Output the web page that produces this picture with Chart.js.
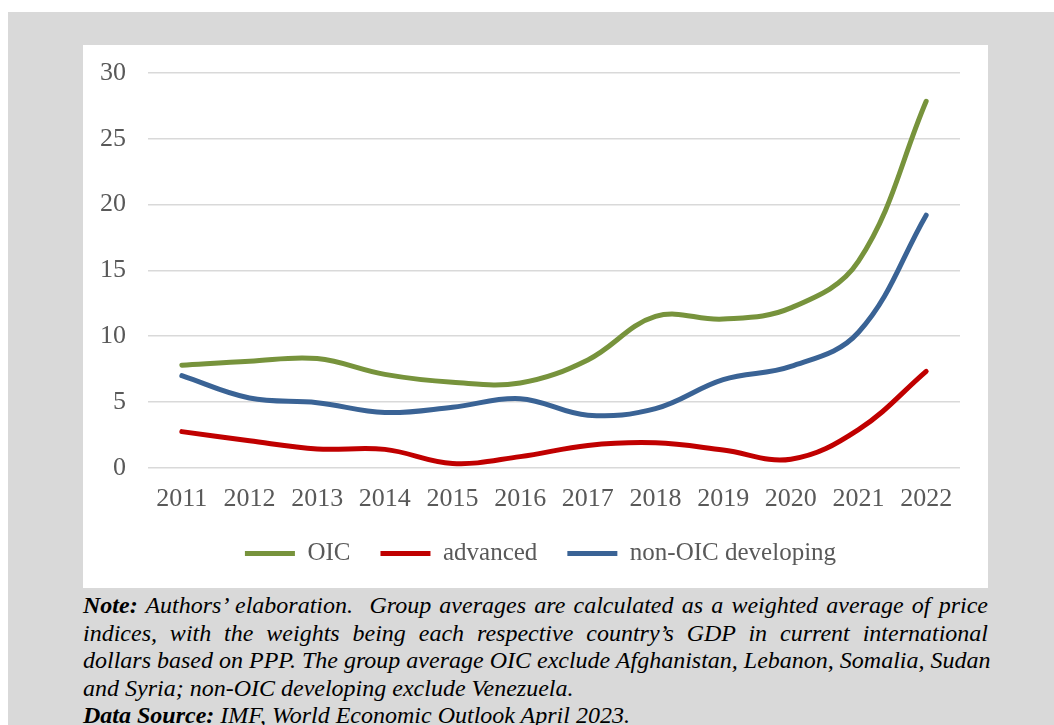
<!DOCTYPE html>
<html>
<head>
<meta charset="utf-8">
<script src="https://cdn.jsdelivr.net/npm/chart.js@4"></script>
<style>
  html, body { margin: 0; padding: 0; background: #ffffff; }
  body { width: 1054px; height: 725px; position: relative; overflow: hidden; }
  .panel { position: absolute; left: 8px; top: 12px; width: 1046px; height: 713px; background: #d9d9d9; }
  .box { position: absolute; left: 83px; top: 45px; width: 905px; height: 543px; background: #ffffff; }
  .note {
    position: absolute; left: 83px; top: 592px; width: 905px;
    font-family: "Liberation Serif", serif; font-style: italic; font-size: 24px;
    line-height: 27.5px; color: #000000;
  }
  .note div { text-align: justify; text-align-last: justify; white-space: nowrap; }
  .note div.last { text-align-last: left; }
</style>
</head>
<body>
<div class="panel"></div>
<div class="box"><canvas id="chart" width="905" height="543"></canvas></div>
<div class="note">
  <div><b>Note:</b> Authors’ elaboration.&nbsp; Group averages are calculated as a weighted average of price</div>
  <div>indices, with the weights being each respective country’s GDP in current international</div>
  <div>dollars based on PPP. The group average OIC exclude Afghanistan, Lebanon, Somalia, Sudan</div>
  <div class="last">and Syria; non-OIC developing exclude Venezuela.</div>
  <div class="last"><b>Data Source:</b> IMF, World Economic Outlook April 2023.</div>
</div>
<script>
// 값은 그림에서 눈으로 읽은 추정치
const years = ['2011', '2012', '2013', '2014', '2015', '2016', '2017', '2018', '2019', '2020', '2021', '2022'];
const oicValues = [7.8, 8.1, 8.3, 7.1, 6.5, 6.45, 8.2, 11.5, 11.3, 12.15, 15.7, 27.85];
const advancedValues = [2.75, 2.05, 1.43, 1.4, 0.33, 0.85, 1.7, 1.9, 1.35, 0.65, 2.9, 7.33];
const nonOicValues = [7.0, 5.3, 4.95, 4.2, 4.6, 5.25, 4.0, 4.5, 6.7, 7.7, 10.3, 19.2];

const fontFamily = '"Liberation Serif", serif';
const textColor = '#595959';

function series(label, data, color) {
    return {
        label: label,
        data: data,
        borderColor: color,
        backgroundColor: color,
        borderWidth: 5,
        borderCapStyle: 'round',
        borderJoinStyle: 'round',
        tension: 0.38,
        pointRadius: 0,
        fill: false
    };
}

// 범례를 원본처럼 살짝 오른쪽으로 이동
const legendShift = {
    id: 'legendShift',
    afterLayout(chart) {
        if (chart.legend) {
            chart.legend.left += 10;
            chart.legend.right += 10;
        }
    }
};

new Chart(document.getElementById('chart').getContext('2d'), {
    type: 'line',
    data: {
        labels: years,
        datasets: [
            series('OIC', oicValues, '#77933C'),
            series('advanced', advancedValues, '#C00000'),
            series('non-OIC developing', nonOicValues, '#3A6395')
        ]
    },
    plugins: [legendShift],
    options: {
        responsive: false,
        animation: false,
        layout: { padding: { top: 28, right: 28, left: 18, bottom: 12 } },
        plugins: {
            tooltip: { enabled: false },
            legend: {
                position: 'bottom',
                labels: {
                    color: textColor,
                    font: { family: fontFamily, size: 25 },
                    boxWidth: 50,
                    boxHeight: 5,
                    padding: 30,
                    generateLabels: (chart) => chart.data.datasets.map((ds, i) => ({
                        text: ds.label,
                        fillStyle: ds.borderColor,
                        strokeStyle: ds.borderColor,
                        lineWidth: 0,
                        fontColor: textColor,
                        datasetIndex: i
                    }))
                }
            }
        },
        scales: {
            x: {
                offset: true,
                grid: { display: false, drawTicks: false },
                border: { display: false },
                ticks: { color: textColor, font: { family: fontFamily, size: 26 }, padding: 16, maxRotation: 0 },
                afterFit: (scale) => { scale.height -= 20; }
            },
            y: {
                min: 0,
                max: 30,
                grid: { color: '#d9d9d9', lineWidth: 1.5, drawTicks: false },
                border: { display: false },
                ticks: { stepSize: 5, color: textColor, font: { family: fontFamily, size: 26 }, padding: 22 },
                afterFit: (scale) => {
                    scale.width = 47;
                    scale.paddingTop = 0;
                    scale.paddingBottom = 0;
                }
            }
        }
    }
});
</script>
</body>
</html>
